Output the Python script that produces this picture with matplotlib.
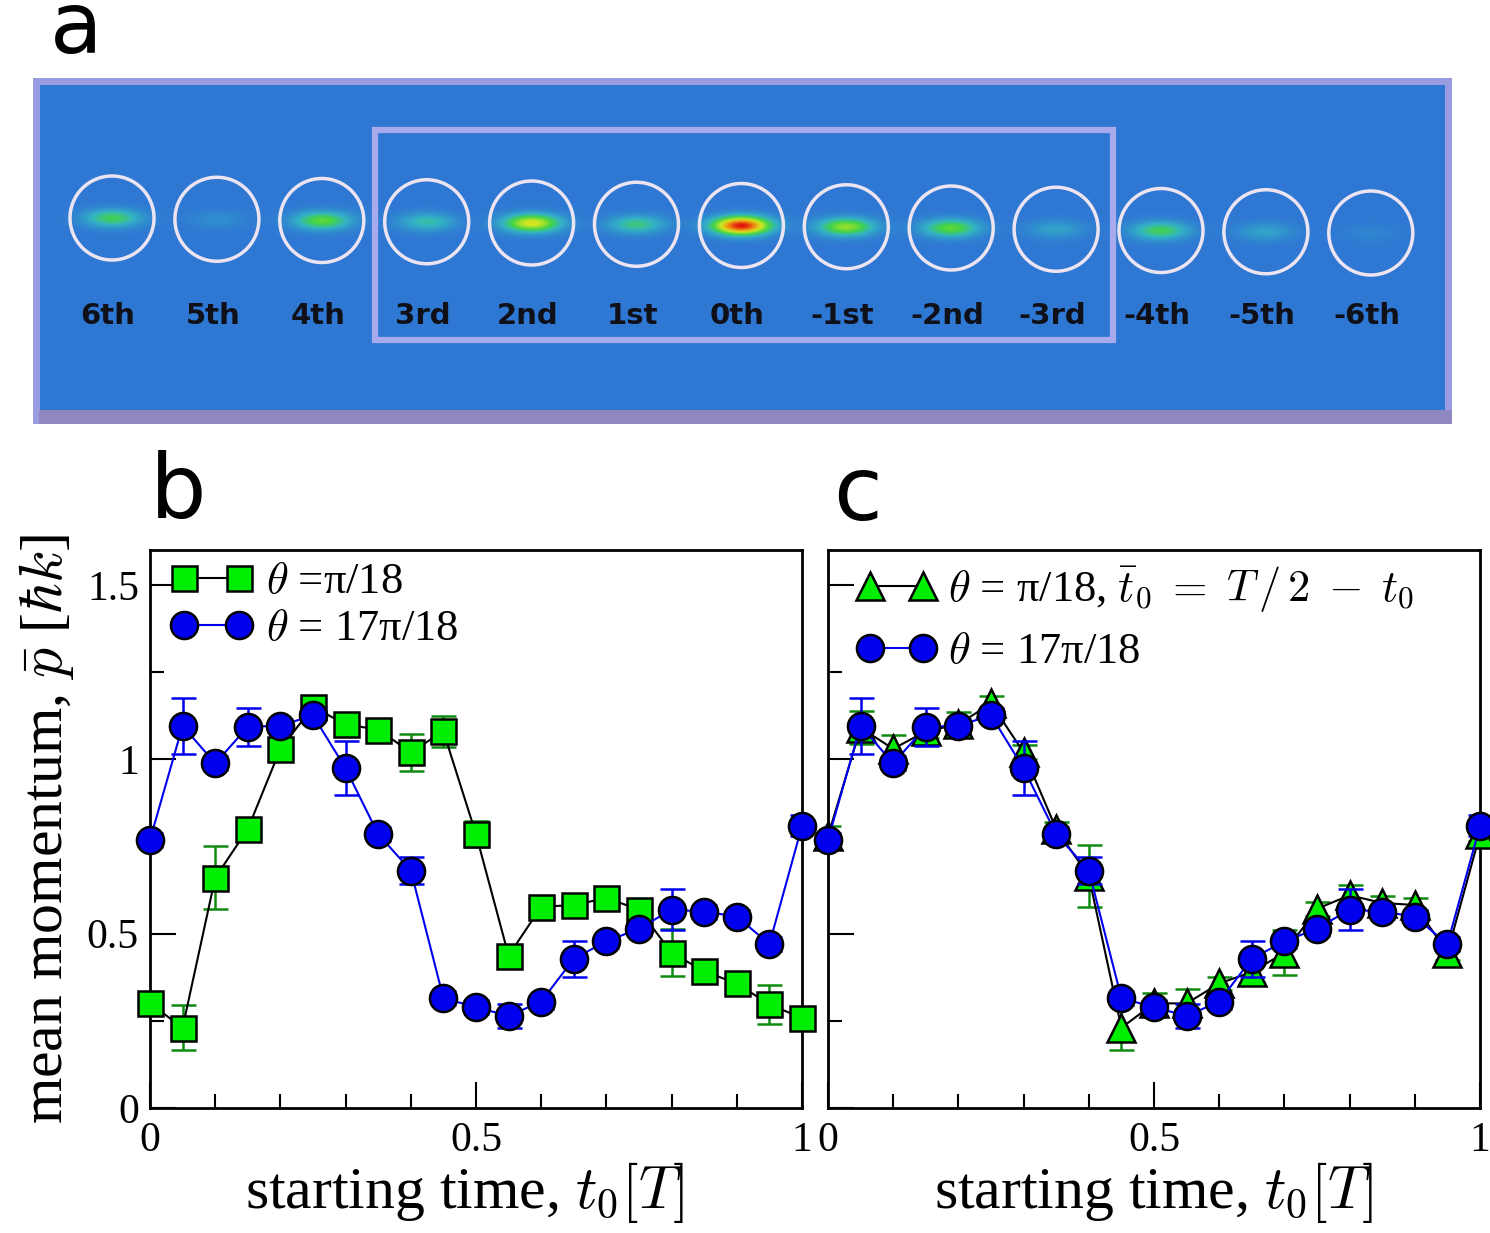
import numpy as np
import matplotlib
matplotlib.use("Agg")
import matplotlib.pyplot as plt
from matplotlib.colors import LinearSegmentedColormap
from matplotlib.patches import Ellipse, Rectangle
from matplotlib.ticker import MultipleLocator

plt.rcParams['font.family'] = ['Liberation Serif', 'DejaVu Serif']
plt.rcParams['mathtext.fontset'] = 'cm'

# panel a: diffraction orders and rough signal strength inside each circle
orders = ['6th', '5th', '4th', '3rd', '2nd', '1st', '0th',
          '-1st', '-2nd', '-3rd', '-4th', '-5th', '-6th']
order_signal = [0.35, 0.08, 0.42, 0.25, 0.62, 0.30, 1.0,
                0.50, 0.42, 0.15, 0.35, 0.15, 0.05]

# panels b, c: mean momentum vs starting time
t0 = [0.0, 0.05, 0.1, 0.15, 0.2, 0.25, 0.3, 0.35, 0.4, 0.45, 0.5,
      0.55, 0.6, 0.65, 0.7, 0.75, 0.8, 0.85, 0.9, 0.95, 1.0]

p_pi18 = [0.30, 0.23, 0.66, 0.80, 1.03, 1.15, 1.10, 1.085, 1.02, 1.08, 0.785,
          0.437, 0.577, 0.582, 0.602, 0.569, 0.445, 0.392, 0.357, 0.297, 0.258]
err_pi18 = [0.02, 0.065, 0.09, 0.02, 0.02, 0.02, 0.02, 0.02, 0.053, 0.045, 0.038,
            0.02, 0.02, 0.02, 0.02, 0.02, 0.067, 0.02, 0.02, 0.057, 0.02]

p_17pi18 = [0.769, 1.096, 0.988, 1.093, 1.096, 1.126, 0.974, 0.785, 0.681, 0.315, 0.289,
            0.264, 0.305, 0.428, 0.478, 0.514, 0.569, 0.563, 0.549, 0.470, 0.809]
err_17pi18 = [0.02, 0.08, 0.02, 0.055, 0.02, 0.02, 0.077, 0.02, 0.04, 0.02, 0.02,
              0.035, 0.02, 0.052, 0.02, 0.02, 0.058, 0.02, 0.02, 0.02, 0.03]

p_shift = [0.78, 1.09, 1.03, 1.08, 1.10, 1.16, 1.02, 0.80, 0.665, 0.23, 0.30,
           0.30, 0.357, 0.39, 0.445, 0.571, 0.61, 0.588, 0.582, 0.445, 0.786]
err_shift = [0.03, 0.047, 0.04, 0.02, 0.035, 0.02, 0.02, 0.02, 0.09, 0.065, 0.03,
             0.04, 0.02, 0.03, 0.065, 0.02, 0.03, 0.02, 0.02, 0.02, 0.02]

green = '#00ee00'
dkgreen = '#108a10'
blue = '#0000ee'

fig = plt.figure(figsize=(14.9, 12.33), dpi=100)
W, H = 1490., 1233.

# ---------------- panel a ----------------
ax_a = fig.add_axes([33 / W, 1 - 424 / H, 1419 / W, 346 / H])
ax_a.set_xlim(0, 1419)
ax_a.set_ylim(346, 0)
ax_a.axis('off')

ax_a.add_patch(Rectangle((0, 0), 1419, 346, facecolor='#9a9ce2', edgecolor='none', zorder=0))
ax_a.add_patch(Rectangle((6, 332), 1413, 14, facecolor='#8f88c0', edgecolor='none', zorder=0))

cmap = LinearSegmentedColormap.from_list('det', [
    (0.0, '#1c4fc0'), (0.12, '#2f78d4'), (0.3, '#33b4c4'), (0.45, '#44d444'),
    (0.65, '#d6e820'), (0.85, '#f08010'), (1.0, '#e01010')])

cx = [79 + 104.9 * i for i in range(len(orders))]
cy = [140 + 1.25 * i for i in range(len(orders))]

gx = np.linspace(7, 1412, 900)
gy = np.linspace(7, 332, 220)
X, Y = np.meshgrid(gx, gy)
img = np.full(X.shape, 0.12)
for i, s in enumerate(order_signal):
    img += 0.88 * s * np.exp(-((X - cx[i]) / 28.0) ** 2 - ((Y - cy[i]) / 9.0) ** 2)
ax_a.imshow(img, cmap=cmap, vmin=0, vmax=1, extent=(7, 1412, 332, 7),
            aspect='auto', interpolation='bilinear', zorder=1)

ax_a.add_patch(Rectangle((342, 52), 738, 210, fill=False, edgecolor='#a8aaee',
                         lw=4.5, zorder=3))
for i, name in enumerate(orders):
    ax_a.add_patch(Ellipse((cx[i], cy[i]), 84, 84, fill=False,
                           edgecolor='#ece4f0', lw=2.5, zorder=2))
    ax_a.text(cx[i] - 4, 238, name, ha='center', va='center', fontsize=21,
              fontweight='bold', family='DejaVu Sans', color='#101018', zorder=4)


# ---------------- panels b, c ----------------
def style_axes(ax, show_ylabels):
    ax.set_xlim(0, 1)
    ax.set_ylim(0, 1.6)
    ax.set_xticks([0, 0.5, 1])
    ax.set_xticklabels(['0', '0.5', '1'])
    ax.xaxis.set_minor_locator(MultipleLocator(0.1))
    ax.set_yticks([0, 0.5, 1, 1.5])
    ax.yaxis.set_minor_locator(MultipleLocator(0.25))
    if show_ylabels:
        ax.set_yticklabels(['0', '0.5', '1', '1.5'])
    else:
        ax.set_yticklabels([])
    ax.tick_params(which='major', direction='in', length=19, width=1.5,
                   labelsize=30, top=False, right=False)
    ax.tick_params(which='minor', direction='in', length=10, width=1.5,
                   top=False, right=False)
    ax.tick_params(axis='x', which='major', pad=10)
    ax.tick_params(axis='y', which='major', pad=8)
    for sp in ax.spines.values():
        sp.set_linewidth(2)
    ax.set_xlabel(r'starting time, $t_0[T]$', fontsize=43, labelpad=0)


def series(ax, y, err, marker, ms, lcolor, ecolor, z):
    ax.errorbar(t0, y, yerr=err, fmt='none', ecolor=ecolor, elinewidth=1.8,
                capsize=9, capthick=1.8, zorder=z)
    h, = ax.plot(t0, y, '-', color=lcolor, lw=1.5, marker=marker, ms=ms,
                 mfc=green if marker != 'o' else blue, mec='black', mew=1.8,
                 zorder=z + 1, clip_on=False)
    return h


ax_b = fig.add_axes([150 / W, 1 - 1108 / H, 652 / W, 558 / H])
style_axes(ax_b, True)
ax_b.xaxis.label.set_x(0.482)
h1 = series(ax_b, p_pi18, err_pi18, 's', 18, 'black', dkgreen, 2)
h2 = series(ax_b, p_17pi18, err_17pi18, 'o', 19.5, blue, blue, 4)
ax_b.set_ylabel(r'mean momentum, $\bar{p}$ [$\hbar k$]', fontsize=43, labelpad=8)
ax_b.legend([h1, h2], [r'$\theta$ =π/18', r'$\theta$ = 17π/18'],
            loc='upper left', bbox_to_anchor=(0.031, 0.978), frameon=False,
            fontsize=32, numpoints=2, handlelength=1.85, handletextpad=0.3,
            labelspacing=0.15, borderpad=0, borderaxespad=0)

ax_c = fig.add_axes([828 / W, 1 - 1108 / H, 652 / W, 558 / H])
style_axes(ax_c, False)
h3 = series(ax_c, p_shift, err_shift, '^', 20, 'black', dkgreen, 2)
h4 = series(ax_c, p_17pi18, err_17pi18, 'o', 19.5, blue, blue, 4)
ax_c.legend([h3, h4],
            [r'$\theta$ = π/18, $\bar{t}_0\;=\;T\,/\,2\;-\;t_0$', r'$\theta$ = 17π/18'],
            loc='upper left', bbox_to_anchor=(0.044, 0.974), frameon=False,
            fontsize=32, numpoints=2, handlelength=1.8, handletextpad=0.25,
            labelspacing=0.4, borderpad=0, borderaxespad=0)

# panel letters
fig.text(50 / W, 1 - 53 / H, 'a', fontsize=62, family='DejaVu Sans', ha='left', va='baseline')
fig.text(150 / W, 1 - 518 / H, 'b', fontsize=64, family='DejaVu Sans', ha='left', va='baseline')
fig.text(833 / W, 1 - 520 / H, 'c', fontsize=64, family='DejaVu Sans', ha='left', va='baseline')

fig.savefig('out.png', dpi=100)
